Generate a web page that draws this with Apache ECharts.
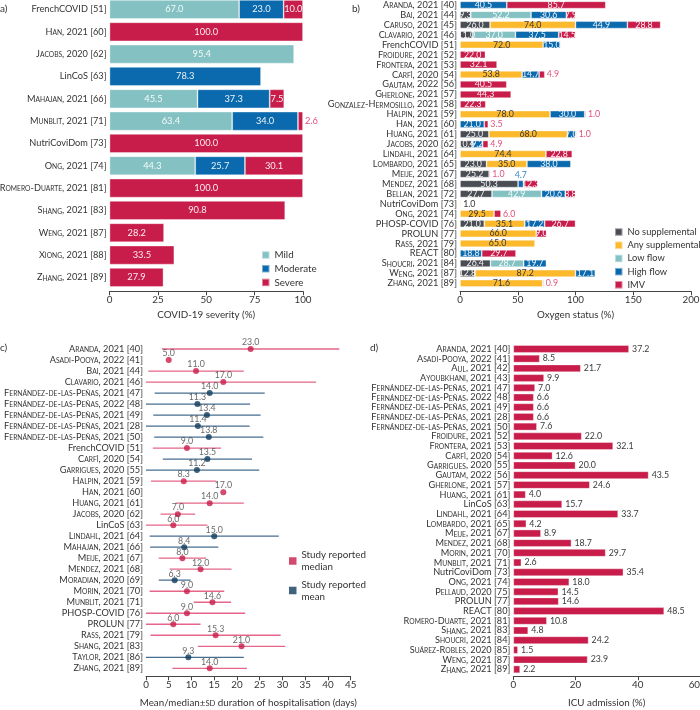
<!DOCTYPE html>
<html><head><meta charset="utf-8">
<script src="https://cdn.jsdelivr.net/npm/echarts@6/dist/echarts.min.js"></script>
<style>html,body{margin:0;padding:0;background:#fff}#c{width:700px;height:710px}</style>
</head><body><div id="c"></div>
<script>
// ---------- DATA ----------
const aCats = ['FrenchCOVID [51]','Han, 2021 [60]','Jacobs, 2020 [62]','LinCoS [63]','Mahajan, 2021 [66]','Munblit, 2021 [71]','NutriCoviDom [73]','Ong, 2021 [74]','Romero-Duarte, 2021 [81]','Shang, 2021 [83]','Weng, 2021 [87]','Xiong, 2021 [88]','Zhang, 2021 [89]'];
const aMild     = [67.0,null,95.4,null,45.5,63.4,null,44.3,null,null,null,null,null];
const aModerate = [23.0,null,null,78.3,37.3,34.0,null,25.7,null,null,null,null,null];
const aSevere   = [10.0,100.0,null,null,7.5,2.6,100.0,30.1,100.0,90.8,28.2,33.5,27.9];

const bCats = ['Aranda, 2021 [40]','Bai, 2021 [44]','Caruso, 2021 [45]','Clavario, 2021 [46]','FrenchCOVID [51]','Froidure, 2021 [52]','Frontera, 2021 [53]','Carfì, 2020 [54]','Gautam, 2022 [56]','Gherlone, 2021 [57]','Gonzalez-Hermosillo, 2021 [58]','Halpin, 2021 [59]','Han, 2021 [60]','Huang, 2021 [61]','Jacobs, 2020 [62]','Lindahl, 2021 [64]','Lombardo, 2021 [65]','Meije, 2021 [67]','Mendez, 2021 [68]','Bellan, 2021 [72]','NutriCoviDom [73]','Ong, 2021 [74]','PHOSP-COVID [76]','PROLUN [77]','Rass, 2021 [79]','REACT [80]','Shoucri, 2021 [84]','Weng, 2021 [87]','Zhang, 2021 [89]'];
const bNoSupp  = [null,9.3,26.0,11.0,null,null,null,null,null,null,null,null,null,25.0,10.4,null,23.0,25.2,50.3,27.7,null,null,21.0,null,null,null,26.4,12.8,null];
const bAnySupp = [null,null,74.0,null,72.0,null,null,53.8,null,null,null,78.0,null,68.0,null,74.4,35.0,null,null,null,1.0,29.5,35.1,66.0,65.0,null,null,87.2,71.6];
const bLowFlow = [null,52.2,null,37.0,null,null,null,null,null,null,null,null,null,null,null,null,null,null,null,42.9,null,null,null,null,null,null,28.7,null,null];
const bHighFlow= [40.5,30.6,44.9,37.5,15.0,null,null,14.7,null,null,null,30.0,21.0,7.0,9.2,null,38.0,null,4.7,20.6,null,null,17.2,null,null,18.8,19.7,17.1,null];
const bIMV     = [85.7,7.9,28.8,14.5,null,22.0,32.1,4.9,40.5,44.3,22.3,1.0,3.5,1.0,4.9,22.8,null,1.0,12.3,8.8,null,6.0,26.7,9.0,null,29.7,null,null,0.9];

const cCats = ['Aranda, 2021 [40]','Asadi-Pooya, 2022 [41]','Bai, 2021 [44]','Clavario, 2021 [46]','Fernández-de-las-Peñas, 2021 [47]','Fernández-de-las-Peñas, 2022 [48]','Fernández-de-las-Peñas, 2021 [49]','Fernández-de-las-Peñas, 2021 [28]','Fernández-de-las-Peñas, 2021 [50]','FrenchCOVID [51]','Carfì, 2020 [54]','Garrigues, 2020 [55]','Halpin, 2021 [59]','Han, 2021 [60]','Huang, 2021 [61]','Jacobs, 2020 [62]','LinCoS [63]','Lindahl, 2021 [64]','Mahajan, 2021 [66]','Meije, 2021 [67]','Mendez, 2021 [68]','Moradian, 2020 [69]','Morin, 2021 [70]','Munblit, 2021 [71]','PHOSP-COVID [76]','PROLUN [77]','Rass, 2021 [79]','Shang, 2021 [83]','Taylor, 2021 [86]','Zhang, 2021 [89]'];
const cValue = [23.0,5.0,11.0,17.0,14.0,11.3,13.4,11.4,13.8,9.0,13.5,11.2,8.3,17.0,14.0,7.0,6.0,15.0,8.4,8.0,12.0,6.3,9.0,14.6,9.0,6.0,15.3,21.0,9.3,14.0];
const cType  = ['median','median','median','median','mean','mean','mean','mean','mean','median','mean','mean','median','median','median','median','median','mean','mean','median','median','mean','median','median','median','median','median','median','mean','median'];
const cLow   = [3.5,null,0.5,0,1.9,0,1.6,0,1.8,1.5,3.7,0,1.1,null,6.5,3.2,0,0.8,0.9,2.8,5.2,2.8,0.8,10.5,0,0,1.0,11.4,0,5.8];
const cHigh  = [42.5,null,21.5,37.4,26.1,22.9,25.2,22.8,25.8,16.5,23.3,24.9,15.5,null,21.5,10.8,13.5,29.2,15.9,13.2,18.8,9.8,17.2,18.7,21.8,12.0,29.6,30.6,21.5,22.2];

const dCats = ['Aranda, 2021 [40]','Asadi-Pooya, 2022 [41]','Aul, 2021 [42]','Ayoubkhani, 2021 [43]','Fernández-de-las-Peñas, 2021 [47]','Fernández-de-las-Peñas, 2022 [48]','Fernández-de-las-Peñas, 2021 [49]','Fernández-de-las-Peñas, 2021 [28]','Fernández-de-las-Peñas, 2021 [50]','Froidure, 2021 [52]','Frontera, 2021 [53]','Carfì, 2020 [54]','Garrigues, 2020 [55]','Gautam, 2022 [56]','Gherlone, 2021 [57]','Huang, 2021 [61]','LinCoS [63]','Lindahl, 2021 [64]','Lombardo, 2021 [65]','Meije, 2021 [67]','Mendez, 2021 [68]','Morin, 2021 [70]','Munblit, 2021 [71]','NutriCoviDom [73]','Ong, 2021 [74]','Pellaud, 2020 [75]','PROLUN [77]','REACT [80]','Romero-Duarte, 2021 [81]','Shang, 2021 [83]','Shoucri, 2021 [84]','Suárez-Robles, 2020 [85]','Weng, 2021 [87]','Zhang, 2021 [89]'];
const dICU = [37.2,8.5,21.7,9.9,7.0,6.6,6.6,6.6,7.6,22.0,32.1,12.6,20.0,43.5,24.6,4.0,15.7,33.7,4.2,8.9,18.7,29.7,2.6,35.4,18.0,14.5,14.6,48.5,10.8,4.8,24.2,1.5,23.9,2.2];

// ---------- STYLE ----------
const FONT = 'Lato';
const FS = 9.2;
const TXT = '#333';
const C = {mild:'#83c1c2', moderate:'#0b6aad', severe:'#c81d4a', no:'#4a4e54', any:'#fcb92c', low:'#83c1c2', high:'#0b6aad', imv:'#c81d4a', median:'#c81d4a', mean:'#0f3b5c'};
const OUT = {severe:'#e0527c', imv:'#e0527c', high:'#3b86c6', any:'#333', no:'#333', low:'#333', mild:'#333', moderate:'#3b86c6'};

function smallCaps(label){
  const m = label.match(/^(.*?)(, \d{4}.*)$/);
  if(!m) return '{n|' + label + '}';
  let out = '', cur = null, buf = '';
  for(const ch of m[1]){
    const isLower = ch !== ch.toUpperCase();
    const t = isLower ? 's' : 'n';
    if(t !== cur){ if(buf) out += '{' + cur + '|' + buf + '}'; buf = ''; cur = t; }
    buf += isLower ? ch.toUpperCase() : ch;
  }
  if(buf) out += '{' + cur + '|' + buf + '}';
  return out + '{n|' + m[2] + '}';
}
const richLab = {
  n:{fontFamily:FONT, fontSize:FS, color:TXT, verticalAlign:'bottom'},
  s:{fontFamily:FONT, fontSize:FS*0.73, color:TXT, verticalAlign:'bottom'}
};

function catAxis(gi, cats){
  return {type:'category', gridIndex:gi, data:cats, inverse:true,
    axisLine:{show:false}, axisTick:{show:false},
    axisLabel:{interval:0, margin:3, formatter:smallCaps, rich:richLab, fontFamily:FONT, fontSize:FS, color:TXT}};
}
function valAxis(gi, max, interval, name, offset, gap, extra){
  return Object.assign({type:'value', gridIndex:gi, min:0, max:max, interval:interval, offset:offset,
    name:name, nameLocation:'middle', nameGap:gap,
    nameTextStyle:{fontFamily:FONT, fontSize:9.8, color:TXT, rich:{s:{fontFamily:FONT, fontSize:7.6, color:TXT}}},
    splitLine:{show:false},
    axisLine:{show:true, lineStyle:{color:'#444', width:1}},
    axisTick:{show:true, length:4, lineStyle:{color:'#444'}},
    axisLabel:{margin:3.5, fontFamily:FONT, fontSize:9.8, color:TXT}}, extra||{});
}

// build stacked bar data with label rules
function stackSeries(rows, keys, names, gi, threshold, labelFs, darkInside){
  return keys.map((k, si) => ({
    name:names[si], type:'bar', stack:'s'+gi, xAxisIndex:gi, yAxisIndex:gi,
    barCategoryGap: gi === 0 ? '15%' : '26%',
    itemStyle:{color:C[k], borderColor:'rgba(255,255,255,0.45)', borderWidth:0.8},
    data: rows[si].map((v, i) => {
      if(v == null) return null;
      let last = true;
      for(let sj = si+1; sj < keys.length; sj++) if(rows[sj][i] != null) last = false;
      const lab = {show:true, formatter:(p)=>p.value.toFixed(1), fontFamily:FONT, fontSize:labelFs,
        color: darkInside.includes(k) ? '#3a3a3a' : 'rgba(255,255,255,0.92)', position:'inside'};
      if(v < threshold){
        lab.position = last ? 'right' : 'top';
        lab.distance = last ? 2 : 1;
        lab.color = OUT[k];
      }
      return {value:v, label:lab};
    })
  }));
}

const seriesA = stackSeries([aMild, aModerate, aSevere], ['mild','moderate','severe'], ['Mild','Moderate','Severe'], 0, 3, 9.3, []);
const seriesB = stackSeries([bNoSupp, bAnySupp, bLowFlow, bHighFlow, bIMV], ['no','any','low','high','imv'],
  ['No supplemental','Any supplemental','Low flow','High flow','IMV'], 1, 6.5, 8.8, ['any']);

function errSeries(type){
  const data = [];
  cCats.forEach((c, i) => { if(cType[i] === type && cLow[i] != null) data.push([cLow[i], cHigh[i], i]); });
  const col = type === 'median' ? '#e5668a' : '#466e90';
  return {type:'custom', xAxisIndex:2, yAxisIndex:2, z:1, silent:true, encode:{x:[0,1], y:2},
    renderItem:(params, api) => {
      const p1 = api.coord([api.value(0), api.value(2)]);
      const p2 = api.coord([api.value(1), api.value(2)]);
      return {type:'line', shape:{x1:p1[0], y1:p1[1], x2:p2[0], y2:p2[1]}, style:{stroke:col, lineWidth:1.3}};
    }, data:data};
}
function pointSeries(type, name){
  const data = [];
  cCats.forEach((c, i) => { if(cType[i] === type) data.push([cValue[i], i]); });
  return {name:name, type:'scatter', xAxisIndex:2, yAxisIndex:2, z:3, symbolSize:6,
    itemStyle:{color:C[type]}, data:data,
    label:{show:true, position:'top', distance:-1, formatter:(p)=>p.value[0].toFixed(1), fontFamily:FONT, fontSize:8.8, color:'#444'}};
}

const option = {
  animation:false,
  textStyle:{fontFamily:FONT},
  grid:[
    {left:109.5, top:-1.7, width:193.5, height:290.3, outerBoundsMode:'none'},
    {left:460, top:0, width:231, height:288.3, outerBoundsMode:'none'},
    {left:146, top:343.5, width:204.7, height:330.3, outerBoundsMode:'none'},
    {left:513.3, top:344.1, width:186.7, height:330.1, outerBoundsMode:'none'}
  ],
  xAxis:[
    valAxis(0, 100, 25, 'COVID-19 severity (%)', 2.7, 19),
    valAxis(1, 200, 50, 'Oxygen status (%)', 3, 19),
    valAxis(2, 45, 5, 'Mean/median±{s|SD} duration of hospitalisation (days)', 2.5, 22),
    valAxis(3, 60, 20, 'ICU admission (%)', 2, 22, {axisLabel:{margin:3.5, fontFamily:FONT, fontSize:9.8, color:TXT, alignMaxLabel:'right'}})
  ],
  yAxis:[catAxis(0, aCats), catAxis(1, bCats), catAxis(2, cCats), catAxis(3, dCats)],
  legend:[
    {data:['Mild','Moderate','Severe'], orient:'vertical', left:261, top:250, itemWidth:7.5, itemHeight:7.5, itemGap:3.7,
      icon:'rect', textStyle:{fontFamily:FONT, fontSize:9.8, color:TXT}, padding:0, selectedMode:false},
    {data:['No supplemental','Any supplemental','Low flow','High flow','IMV'], orient:'vertical', left:614, top:227.3, itemWidth:7.5, itemHeight:7.5, itemGap:3.7,
      icon:'rect', textStyle:{fontFamily:FONT, fontSize:9.3, color:TXT}, padding:0, selectedMode:false},
    {data:['Study reported median','Study reported mean'], orient:'vertical', left:289, top:543, itemWidth:7.5, itemHeight:7.5, itemGap:-6.5,
      icon:'rect', selectedMode:false, padding:0,
      formatter:(n)=> n.replace('Study reported ', 'Study reported\n'),
      textStyle:{fontFamily:FONT, fontSize:9.8, color:TXT, lineHeight:12, padding:[12,0,0,0]}}
  ],
  graphic:[
    {type:'text', left:0, top:4, style:{text:'a)', font:'10px Lato', fill:TXT}},
    {type:'text', left:352, top:4, style:{text:'b)', font:'10px Lato', fill:TXT}},
    {type:'text', left:0, top:343, style:{text:'c)', font:'10px Lato', fill:TXT}},
    {type:'text', left:370, top:343, style:{text:'d)', font:'10px Lato', fill:TXT}}
  ],
  series:[].concat(seriesA, seriesB, [
    errSeries('median'), errSeries('mean'),
    pointSeries('median', 'Study reported median'), pointSeries('mean', 'Study reported mean'),
    {type:'bar', xAxisIndex:3, yAxisIndex:3, barCategoryGap:'20%', data:dICU,
      itemStyle:{color:C.severe, borderColor:'rgba(255,255,255,0.45)', borderWidth:0.8},
      label:{show:true, position:'right', distance:3, formatter:(p)=>p.value.toFixed(1), fontFamily:FONT, fontSize:8.8, color:'#3a3a3a'}}
  ])
};
const chart = echarts.init(document.getElementById('c'), null, {renderer:'canvas'});
chart.setOption(option);
</script></body></html>
